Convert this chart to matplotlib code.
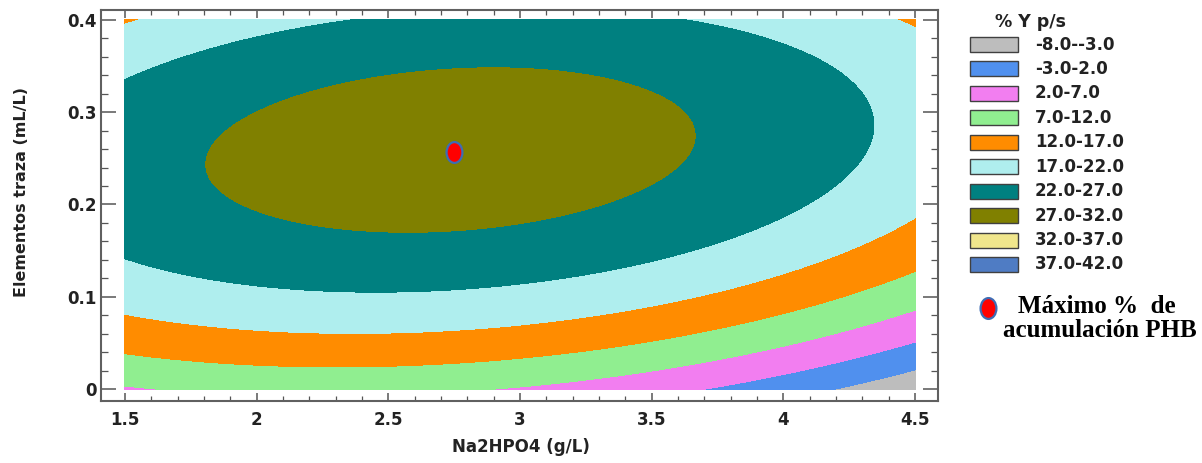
import numpy as np
import matplotlib.pyplot as plt
from matplotlib.patches import Rectangle
from matplotlib.lines import Line2D
from matplotlib.path import Path
from matplotlib.ticker import MultipleLocator

# %%

# Quadratic response surface for % Y p/s (coefficients)
x_opt = 2.736    # Na2HPO4 (g/L) at the top of the surface
y_opt = 0.259    # Elementos traza (mL/L) at the top
y_top = 29.5     # % Y p/s at the top
coef_xx = 3.0
coef_yy = 328.0
coef_xy = 11.0

x_range = [1.5, 4.5]
y_range = [0.0, 0.4]

levels = [-8, -3, 2, 7, 12, 17, 22, 27, 32, 37, 42]
level_colors = ['#bdbdbd', '#5090ee', '#f27ef0', '#90ee90', '#ff8c00',
                '#afeeee', '#008080', '#808000', '#f0e68c', '#4f7cc4']

max_x = [2.75]
max_y = [0.257]

x_ticks = [1.5, 2, 2.5, 3, 3.5, 4, 4.5]
x_tick_labels = ['1.5', '2', '2.5', '3', '3.5', '4', '4.5']
y_ticks = [0, 0.1, 0.2, 0.3, 0.4]
y_tick_labels = ['0', '0.1', '0.2', '0.3', '0.4']

# %%

W, H = 1202, 463
fig = plt.figure(figsize=(W / 100, H / 100), dpi=100)

def fx(px):
    return px / W

def fy(py):
    return 1 - py / H

ax = fig.add_axes([fx(101), fy(401), fx(938) - fx(101), fy(10) - fy(401)])

xx, yy = np.meshgrid(np.linspace(x_range[0], x_range[1], 400),
                     np.linspace(y_range[0], y_range[1], 400))
zz = (y_top - coef_xx * (xx - x_opt) ** 2 - coef_yy * (yy - y_opt) ** 2
      + coef_xy * (xx - x_opt) * (yy - y_opt))

cs = ax.contourf(xx, yy, zz, levels=levels, colors=level_colors)
cs.set_edgecolor('face')
cs.set_linewidth(0.6)

# ellipse-shaped marker for the maximum
circ = Path.unit_circle()
ell = Path(circ.vertices * [0.76, 1.0], circ.codes)
ax.plot(max_x, max_y, linestyle='none', marker=ell, markersize=15,
        markerfacecolor='#ff0000', markeredgecolor='#3e6cb4', markeredgewidth=1.6)

ax.set_xlim(1.409, 4.587)
ax.set_ylim(-0.013, 0.4108)
ax.set_xticks(x_ticks)
ax.set_xticklabels(x_tick_labels)
ax.set_yticks(y_ticks)
ax.set_yticklabels(y_tick_labels)
ax.xaxis.set_minor_locator(MultipleLocator(0.1))
ax.yaxis.set_minor_locator(MultipleLocator(0.02))

ax.tick_params(which='both', direction='in', top=True, right=True,
               color='#555555', labelcolor='#222222')
ax.tick_params(axis='x', which='major', length=6, width=1.1, pad=7,
               labelsize=12)
ax.tick_params(axis='x', which='minor', length=3.5, width=0.9)
ax.tick_params(axis='y', which='major', length=11, width=1.1, pad=3,
               labelsize=12)
ax.tick_params(axis='y', which='minor', length=5, width=0.9)
for lab in ax.get_xticklabels() + ax.get_yticklabels():
    lab.set_fontweight('bold')
for sp in ax.spines.values():
    sp.set_color('#606060')
    sp.set_linewidth(1.5)

fig.text(fx(521), fy(447), 'Na2HPO4 (g/L)', ha='center', va='center',
         fontsize=12, fontweight='bold', color='#222222')
fig.text(fx(22), fy(192), 'Elementos traza (mL/L)', ha='center', va='center',
         rotation=90, fontsize=11.5, fontweight='bold', color='#222222')

# %%

# Legend drawn by hand
fig.text(fx(995), fy(22), '% Y p/s', ha='left', va='center',
         fontsize=12.5, fontweight='bold', color='#222222')
for i, col in enumerate(level_colors):
    top = 37 + i * 24.44
    fig.add_artist(Rectangle((fx(970), fy(top + 15)), fx(1018) - fx(970),
                             fy(top) - fy(top + 15), transform=fig.transFigure,
                             facecolor=col, edgecolor='#404040', linewidth=1.0))
    label = f'{levels[i]:.1f}-{levels[i + 1]:.1f}'
    fig.text(fx(1035), fy(top + 7.5), label, ha='left', va='center',
             fontsize=12, fontweight='bold', color='#222222')

fig.add_artist(Line2D([fx(988)], [fy(308)], transform=fig.transFigure,
                      linestyle='none', marker=ell, markersize=15,
                      markerfacecolor='#ff0000', markeredgecolor='#3e6cb4',
                      markeredgewidth=1.6))
fig.text(fx(1097), fy(313), 'Máximo %  de', ha='center', va='baseline',
         fontsize=18, fontweight='bold', family='Liberation Serif')
fig.text(fx(1100), fy(337), 'acumulación PHB', ha='center', va='baseline',
         fontsize=18, fontweight='bold', family='Liberation Serif')

fig.savefig('out.png', dpi=100)
